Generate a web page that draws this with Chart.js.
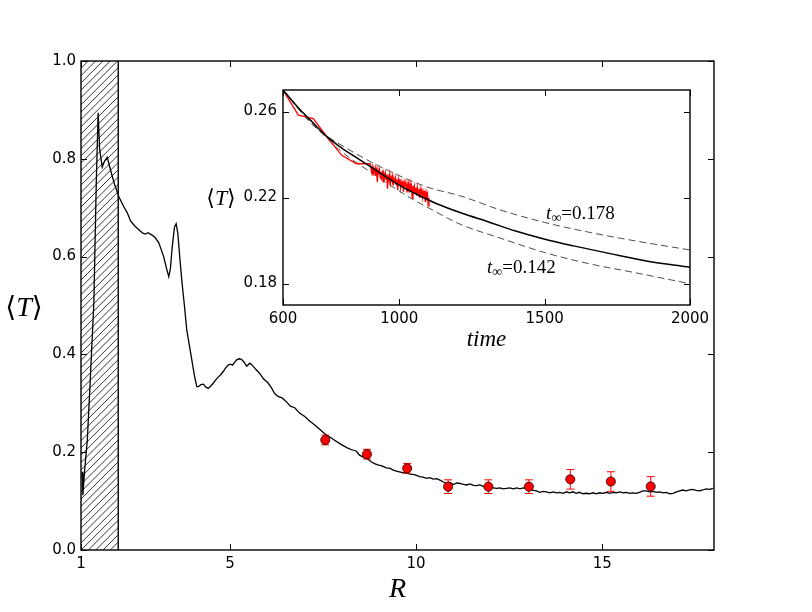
<!DOCTYPE html>
<html>
<head>
<meta charset="utf-8">
<script src="https://cdn.jsdelivr.net/npm/chart.js@4.4.0/dist/chart.umd.min.js"></script>
<style>
  html, body { margin: 0; padding: 0; background: #fff; }
  #wrap { position: relative; width: 812px; height: 612px; }
  #main { position: absolute; left: 0; top: 0; }
  #inset { position: absolute; left: 190px; top: 75px; }
</style>
</head>
<body>
<div id="wrap">
  <canvas id="main" width="812" height="612"></canvas>
  <canvas id="inset" width="530" height="285"></canvas>
</div>
<script>
// main panel: <T> against R
const mainR = [1.03,1.05,1.10,1.17,1.25,1.345,1.41,1.46,1.50,1.57,1.63,1.705,1.80,1.90,2.02,2.15,2.24,2.33,2.45,2.60,2.66,2.73,2.80,2.91,3.00,3.09,3.22,3.30,3.357,3.40,3.45,3.51,3.555,3.60,3.66,3.715,3.78,3.84,3.94,4.05,4.11,4.15,4.22,4.29,4.35,4.42,4.48,4.55,4.62,4.69,4.76,4.82,4.88,4.95,5.01,5.07,5.12,5.18,5.25,5.31,5.38,5.45,5.53,5.60,5.70,5.80,5.90,6.02,6.12,6.20,6.29,6.40,6.52,6.62,6.74,6.87,7.01,7.14,7.27,7.41,7.50,7.59,7.70,7.80,7.94,8.03,8.15,8.27,8.39,8.48,8.58,8.70,8.80,8.90,8.97,9.08,9.20,9.30,9.40,9.55,9.65,9.75,9.84,9.95,10.10,10.19,10.28,10.37,10.46,10.55,10.64,10.73,10.82,10.91,11.00,11.09,11.18,11.27,11.36,11.45,11.54,11.62,11.71,11.80,11.89,11.98,12.07,12.16,12.25,12.34,12.43,12.52,12.61,12.70,12.79,12.88,12.97,13.06,13.15,13.23,13.32,13.41,13.50,13.59,13.68,13.77,13.86,13.95,14.04,14.12,14.21,14.30,14.39,14.48,14.57,14.66,14.75,14.84,14.93,15.02,15.11,15.20,15.29,15.38,15.47,15.56,15.65,15.74,15.82,15.91,16.00,16.09,16.18,16.27,16.36,16.45,16.54,16.63,16.72,16.81,16.90,16.99,17.08,17.16,17.25,17.34,17.43,17.52,17.61,17.70,17.79,17.88,17.97];
const mainT = [0.160,0.112,0.165,0.225,0.350,0.505,0.750,0.894,0.820,0.783,0.795,0.803,0.775,0.748,0.722,0.702,0.690,0.673,0.662,0.652,0.648,0.646,0.649,0.644,0.638,0.628,0.600,0.575,0.559,0.575,0.620,0.660,0.667,0.648,0.592,0.545,0.498,0.450,0.405,0.355,0.334,0.334,0.338,0.339,0.333,0.331,0.335,0.341,0.348,0.354,0.359,0.365,0.372,0.378,0.380,0.378,0.383,0.389,0.391,0.390,0.384,0.376,0.382,0.378,0.369,0.361,0.350,0.342,0.331,0.320,0.314,0.311,0.303,0.294,0.291,0.280,0.273,0.264,0.256,0.247,0.241,0.235,0.230,0.225,0.218,0.214,0.209,0.205,0.2025,0.194,0.190,0.186,0.180,0.176,0.174,0.172,0.168,0.167,0.163,0.160,0.158,0.157,0.155,0.154,0.150,0.149,0.1466,0.148,0.145,0.146,0.143,0.139,0.136,0.138,0.134,0.137,0.136,0.134,0.133,0.135,0.132,0.1315,0.133,0.130,0.1295,0.131,0.127,0.126,0.127,0.125,0.126,0.127,0.125,0.127,0.125,0.127,0.126,0.124,0.122,0.121,0.118,0.120,0.119,0.117,0.119,0.117,0.118,0.116,0.119,0.117,0.119,0.116,0.118,0.115,0.116,0.115,0.117,0.115,0.117,0.116,0.118,0.116,0.118,0.117,0.119,0.117,0.118,0.116,0.117,0.116,0.118,0.121,0.121,0.119,0.120,0.118,0.119,0.117,0.118,0.115,0.116,0.119,0.121,0.1227,0.121,0.123,0.124,0.122,0.121,0.1227,0.125,0.124,0.126];

const pointR = [7.56, 8.68, 9.76, 10.86, 11.94, 13.03, 14.14, 15.23, 16.30];
const pointT = [0.225, 0.196, 0.167, 0.1295, 0.1295, 0.1295, 0.1445, 0.140, 0.130];
const pointErr = [0.010, 0.010, 0.010, 0.014, 0.014, 0.014, 0.020, 0.020, 0.020];

const mainXTicks = [1, 5, 10, 15];
const mainYTicks = [0.0, 0.2, 0.4, 0.6, 0.8, 1.0];
const hatchRange = [1, 2];

// inset: <T> against time
const fitTime = [600, 659, 700, 751, 800, 866, 930, 991, 1060, 1129, 1209, 1312, 1400, 1501, 1600, 1725, 1850, 2000];
const fitT = [0.270, 0.2608, 0.2552, 0.2483, 0.2432, 0.2374, 0.2318, 0.2265, 0.2215, 0.2171, 0.2130, 0.2084, 0.2044, 0.2006, 0.1975, 0.1939, 0.1905, 0.1876];

const highTime = [600, 700, 760, 820, 935, 1095, 1209, 1350, 1500, 1650, 1812, 2000];
const highT = [0.270, 0.2540, 0.2478, 0.2428, 0.2343, 0.2249, 0.2208, 0.2141, 0.2084, 0.2039, 0.1998, 0.1956];

const lowTime = [600, 700, 800, 888, 1048, 1095, 1209, 1350, 1500, 1650, 1812, 2000];
const lowT = [0.270, 0.2545, 0.2415, 0.2330, 0.2190, 0.2156, 0.2076, 0.2010, 0.1944, 0.1893, 0.1850, 0.1799];

const simTime = [600,653,704,756,802,853,899,
  902,904.5,907,909.5,912,914.5,917,919.5,922,924.5,927,929.5,932,934.5,937,939.5,942,944.5,947,949.5,
  952,954.5,957,959.5,962,964.5,967,969.5,972,974.5,977,979.5,982,984.5,987,989.5,992,994.5,997,999.5,
  1002,1004.5,1007,1009.5,1012,1014.5,1017,1019.5,1022,1024.5,1027,1029.5,1032,1034.5,1037,1039.5,
  1042,1044.5,1047,1049.5,1052,1054.5,1057,1059.5,1062,1064.5,1067,1069.5,1072,1074.5,1077,1079.5,
  1082,1084.5,1087,1089.5,1092,1094.5,1097,1099.5,1102];
const simT = [0.270,0.2583,0.2567,0.2474,0.2396,0.2357,0.2357,
  0.2346,0.2320,0.2340,0.2301,0.2333,0.2318,0.2338,0.2302,0.2323,0.2272,0.2326,0.2306,0.2327,0.2291,0.2316,0.2296,0.2325,0.2273,0.2309,0.2293,
  0.2314,0.2284,0.2307,0.2241,0.2296,0.2282,0.2308,0.2268,0.2295,0.2281,0.2300,0.2256,0.2285,0.2267,0.2290,0.2259,0.2284,0.2235,0.2285,0.2265,
  0.2286,0.2245,0.2272,0.2255,0.2278,0.2227,0.2270,0.2251,0.2270,0.2240,0.2261,0.2224,0.2262,0.2238,0.2264,0.2227,
  0.2250,0.2196,0.2254,0.2232,0.2253,0.2221,0.2244,0.2210,0.2247,0.2221,0.2238,0.2199,0.2239,0.2220,0.2234,0.2201,
  0.2226,0.2205,0.2231,0.2179,0.2224,0.2204,0.2218,0.2161,0.2199];

const insetXTicks = [600, 1000, 1500, 2000];
const insetYTicks = [0.18, 0.22, 0.26];

const fitLabels = [
  { time: 1505, T: 0.2099, text: '=0.178' },
  { time: 1302, T: 0.1851, text: '=0.142' }
];

const tickFont = { family: 'DejaVu Sans', size: 15 };
const serif = '"Liberation Serif", "DejaVu Serif", serif';

function xy(xs, ys) {
  return xs.map((x, i) => ({ x: x, y: ys[i] }));
}

// draws pieces of text with different fonts side by side
function drawRuns(ctx, runs, x, y, align) {
  ctx.save();
  ctx.textBaseline = 'alphabetic';
  ctx.textAlign = 'left';
  let total = 0;
  runs.forEach(r => { ctx.font = r.font; r.w = ctx.measureText(r.text).width; total += r.w; });
  let cx = align === 'center' ? x - total / 2 : x;
  runs.forEach(r => {
    ctx.font = r.font;
    ctx.fillStyle = '#000';
    ctx.fillText(r.text, cx, y + (r.dy || 0));
    cx += r.w;
  });
  ctx.restore();
}

function bracketT(size) {
  return [
    { text: '\u27E8', font: size + 'px "DejaVu Sans"' },
    { text: 'T', font: 'italic ' + size + 'px ' + serif },
    { text: '\u27E9', font: size + 'px "DejaVu Sans"' }
  ];
}

// frame and inward ticks on all four sides, like matplotlib
function drawFrame(chart, xTicks, yTicks) {
  const ctx = chart.ctx;
  const a = chart.chartArea;
  const xs = chart.scales.x, ys = chart.scales.y;
  ctx.save();
  ctx.strokeStyle = '#000';
  ctx.lineWidth = 1;
  ctx.beginPath();
  xTicks.forEach(v => {
    const px = Math.round(xs.getPixelForValue(v)) + 0.5;
    ctx.moveTo(px, a.bottom); ctx.lineTo(px, a.bottom - 6);
    ctx.moveTo(px, a.top); ctx.lineTo(px, a.top + 6);
  });
  yTicks.forEach(v => {
    const py = Math.round(ys.getPixelForValue(v)) + 0.5;
    ctx.moveTo(a.left, py); ctx.lineTo(a.left + 6, py);
    ctx.moveTo(a.right, py); ctx.lineTo(a.right - 6, py);
  });
  ctx.stroke();
  ctx.lineWidth = 1.4;
  ctx.strokeRect(a.left, a.top, a.right - a.left, a.bottom - a.top);
  ctx.restore();
}

const mainDecor = {
  id: 'mainDecor',
  beforeDatasetsDraw(chart) {
    const ctx = chart.ctx;
    const a = chart.chartArea;
    const x0 = chart.scales.x.getPixelForValue(hatchRange[0]);
    const x1 = chart.scales.x.getPixelForValue(hatchRange[1]);
    const h = a.bottom - a.top;
    ctx.save();
    ctx.beginPath();
    ctx.rect(x0, a.top, x1 - x0, h);
    ctx.clip();
    ctx.strokeStyle = '#000';
    ctx.lineWidth = 0.8;
    ctx.beginPath();
    for (let s = x0 - h; s < x1 + 7; s += 7.3) {
      ctx.moveTo(s, a.bottom);
      ctx.lineTo(s + h, a.top);
    }
    ctx.stroke();
    ctx.restore();
    ctx.save();
    ctx.strokeStyle = '#000';
    ctx.lineWidth = 1.4;
    ctx.beginPath();
    ctx.moveTo(x1, a.top); ctx.lineTo(x1, a.bottom);
    ctx.stroke();
    ctx.restore();
  },
  beforeDatasetDraw(chart, args) {
    if (args.index !== 0) return;
    const ctx = chart.ctx;
    const xs = chart.scales.x, ys = chart.scales.y;
    ctx.save();
    ctx.strokeStyle = '#ff0000';
    ctx.lineWidth = 1;
    ctx.beginPath();
    pointR.forEach((r, i) => {
      const px = xs.getPixelForValue(r);
      const top = ys.getPixelForValue(pointT[i] + pointErr[i]);
      const bot = ys.getPixelForValue(pointT[i] - pointErr[i]);
      ctx.moveTo(px, top); ctx.lineTo(px, bot);
      ctx.moveTo(px - 4, top); ctx.lineTo(px + 4, top);
      ctx.moveTo(px - 4, bot); ctx.lineTo(px + 4, bot);
    });
    ctx.stroke();
    ctx.restore();
  },
  afterDraw(chart) {
    drawFrame(chart, mainXTicks, mainYTicks);
    const a = chart.chartArea;
    drawRuns(chart.ctx, bracketT(28), 24, (a.top + a.bottom) / 2 + 10, 'center');
    drawRuns(chart.ctx, [{ text: 'R', font: 'italic 28px ' + serif }], (a.left + a.right) / 2, 597, 'center');
  }
};

const insetDecor = {
  id: 'insetDecor',
  beforeDraw(chart) {
    const ctx = chart.ctx;
    const a = chart.chartArea;
    ctx.save();
    ctx.fillStyle = '#fff';
    ctx.fillRect(a.left, a.top, a.right - a.left, a.bottom - a.top);
    ctx.restore();
  },
  afterDraw(chart) {
    drawFrame(chart, insetXTicks, insetYTicks);
    const a = chart.chartArea;
    const ctx = chart.ctx;
    drawRuns(ctx, bracketT(22), 31, (a.top + a.bottom) / 2 + 7, 'center');
    drawRuns(ctx, [{ text: 'time', font: 'italic 23px ' + serif }], (a.left + a.right) / 2, a.bottom + 41, 'center');
    fitLabels.forEach(l => {
      const px = chart.scales.x.getPixelForValue(l.time);
      const py = chart.scales.y.getPixelForValue(l.T);
      drawRuns(ctx, [
        { text: 't', font: 'italic 19px ' + serif },
        { text: '\u221E', font: '14px ' + serif, dy: 3 },
        { text: l.text, font: '19px ' + serif }
      ], px, py, 'left');
    });
  }
};

function fixedTicks(list) {
  return scale => { scale.ticks = list.map(v => ({ value: v })); };
}

new Chart(document.getElementById('main'), {
  type: 'line',
  data: {
    datasets: [
      {
        type: 'scatter',
        data: xy(pointR, pointT),
        pointRadius: 4.6,
        pointBackgroundColor: '#ff0000',
        pointBorderColor: '#000',
        pointBorderWidth: 0.7,
        showLine: false
      },
      {
        data: xy(mainR, mainT),
        borderColor: '#000',
        borderWidth: 1.3,
        pointRadius: 0,
        tension: 0,
        fill: false
      }
    ]
  },
  options: {
    responsive: false,
    animation: false,
    layout: { padding: { top: 61, right: 98, left: 0, bottom: 0 } },
    plugins: { legend: { display: false }, tooltip: { enabled: false } },
    scales: {
      x: {
        type: 'linear', min: 1, max: 18,
        afterBuildTicks: fixedTicks(mainXTicks),
        afterFit: s => { s.height = 62; },
        grid: { display: false, drawTicks: false },
        border: { display: false },
        ticks: { padding: 5, color: '#000', font: tickFont, maxRotation: 0, callback: v => String(v) }
      },
      y: {
        type: 'linear', min: 0, max: 1,
        afterBuildTicks: fixedTicks(mainYTicks),
        afterFit: s => { s.width = 81; },
        grid: { display: false, drawTicks: false },
        border: { display: false },
        ticks: { padding: 5, color: '#000', font: tickFont, callback: v => v.toFixed(1) }
      }
    }
  },
  plugins: [mainDecor]
});

new Chart(document.getElementById('inset'), {
  type: 'line',
  data: {
    datasets: [
      { data: xy(fitTime, fitT), borderColor: '#000', borderWidth: 1.5, pointRadius: 0, cubicInterpolationMode: 'monotone' },
      { data: xy(simTime, simT), borderColor: '#ff0000', borderWidth: 1.3, pointRadius: 0, tension: 0 },
      { data: xy(highTime, highT), borderColor: '#000', borderWidth: 0.7, borderDash: [7, 4], pointRadius: 0, cubicInterpolationMode: 'monotone' },
      { data: xy(lowTime, lowT), borderColor: '#000', borderWidth: 0.7, borderDash: [7, 4], pointRadius: 0, cubicInterpolationMode: 'monotone' }
    ]
  },
  options: {
    responsive: false,
    animation: false,
    layout: { padding: { top: 15, right: 30, left: 0, bottom: 0 } },
    plugins: { legend: { display: false }, tooltip: { enabled: false } },
    scales: {
      x: {
        type: 'linear', min: 600, max: 2000,
        afterBuildTicks: fixedTicks(insetXTicks),
        afterFit: s => { s.height = 55; },
        grid: { display: false, drawTicks: false },
        border: { display: false },
        ticks: { padding: 5, color: '#000', font: tickFont, maxRotation: 0, callback: v => String(v) }
      },
      y: {
        type: 'linear', min: 0.17, max: 0.27,
        afterBuildTicks: fixedTicks(insetYTicks),
        afterFit: s => { s.width = 93; },
        grid: { display: false, drawTicks: false },
        border: { display: false },
        ticks: { padding: 6, color: '#000', font: tickFont, callback: v => v.toFixed(2) }
      }
    }
  },
  plugins: [insetDecor]
});
</script>
</body>
</html>
